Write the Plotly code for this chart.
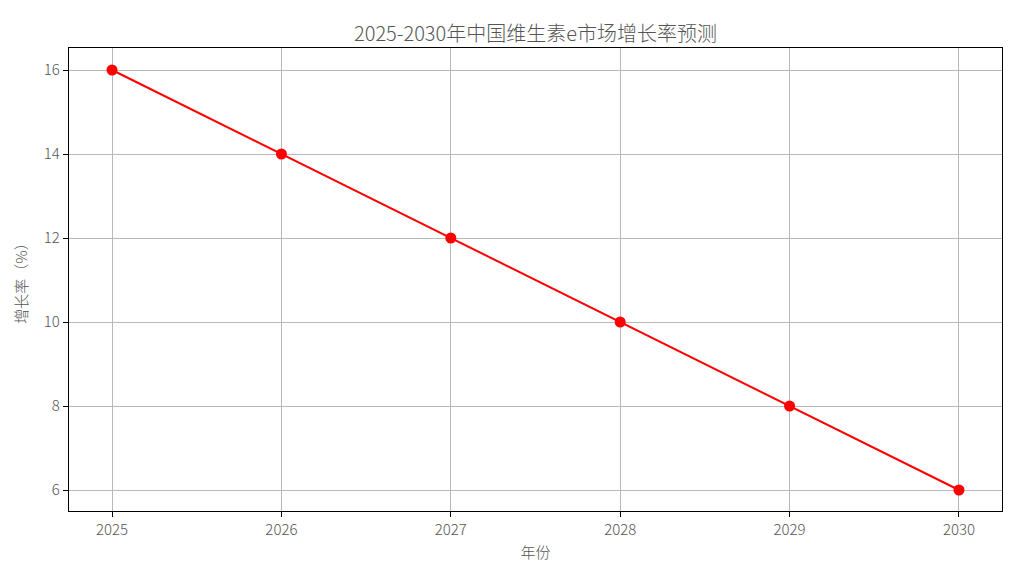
import plotly.graph_objects as go

years = [2025, 2026, 2027, 2028, 2029, 2030]
growth = [16, 14, 12, 10, 8, 6]
title = "2025-2030年中国维生素e市场增长率预测"
x_label = "年份"
y_label = "增长率（%）"

font_family = "Noto Sans CJK SC"
text_color = "#555555"

fig = go.Figure()
fig.add_trace(go.Scatter(
    x=years, y=growth, mode="lines+markers",
    line=dict(color="#ff0000", width=2),
    marker=dict(color="#ff0000", size=11),
    showlegend=False,
))

axis_common = dict(
    showline=True, linecolor="black", linewidth=1.2, mirror=True,
    ticks="outside", ticklen=5, tickcolor="black", tickwidth=1,
    showgrid=True, gridcolor="#b8b8b8", gridwidth=1,
    zeroline=False,
    tickfont=dict(family=font_family, size=15, color=text_color, weight=300),
)

fig.update_layout(
    width=1023, height=569,
    paper_bgcolor="white", plot_bgcolor="white",
    margin=dict(l=61, r=29, t=40, b=66),
    title=dict(text=title, x=0.5, xref="paper", xanchor="center", y=0.955, yanchor="middle",
               font=dict(family=font_family, size=20, color=text_color, weight=300)),
    xaxis=dict(axis_common, range=[2024.746, 2030.254], tickmode="array",
               tickvals=years, ticktext=[str(y) for y in years],
               title=dict(text=x_label, standoff=9,
                          font=dict(family=font_family, size=15, color=text_color, weight=300))),
    yaxis=dict(axis_common, range=[5.5, 16.524], tickmode="array",
               tickvals=[6, 8, 10, 12, 14, 16],
               title=dict(text=y_label, standoff=12,
                          font=dict(family=font_family, size=15, color=text_color, weight=300))),
    font=dict(family=font_family, color=text_color),
)

fig.write_html("out.html")
